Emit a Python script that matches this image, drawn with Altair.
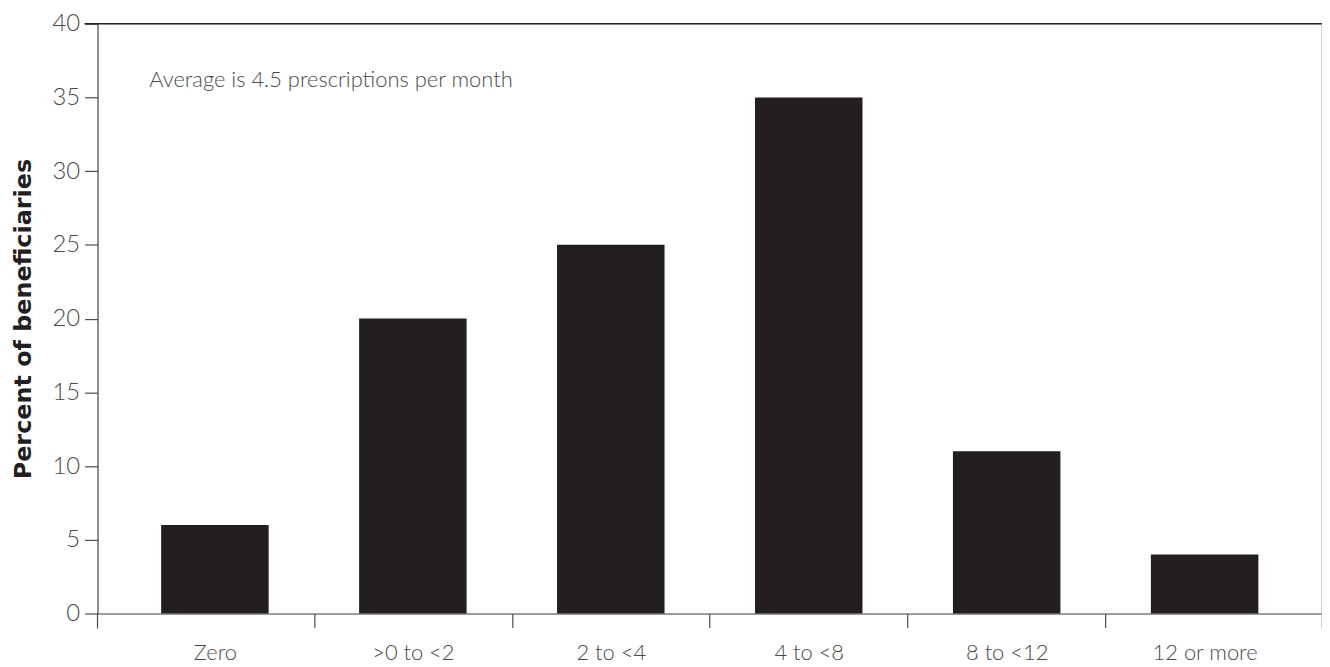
import altair as alt
import pandas as pd

categories = ["Zero", ">0 to <2", "2 to <4", "4 to <8", "8 to <12", "12 or more"]
percents = [6, 20, 25, 35, 11, 4]
y_ticks = [0, 5, 10, 15, 20, 25, 30, 35, 40]
annotation = "Average is 4.5 prescriptions per month"
y_title = "Percent of beneficiaries"

df = pd.DataFrame({"category": categories, "percent": percents})

W, H = 1231, 593
FONT = "Lato"
AXIS_COLOR = "#4d4d4d"
LABEL_COLOR = "#4a4a4a"
BAR_COLOR = "#231f20"

x_scale = alt.Scale(domain=categories, paddingInner=0.457, paddingOuter=0.3215)
y_scale = alt.Scale(domain=[0, 40], nice=False)

bars = alt.Chart(df).mark_bar(color=BAR_COLOR).encode(
    x=alt.X("category:N", sort=categories, scale=x_scale,
            axis=alt.Axis(title=None, labelAngle=0, domainColor=AXIS_COLOR,
                          tickColor=AXIS_COLOR, tickSize=14,
                          tickOffset=-99.5, labelOffset=99.5,
                          tickOpacity=alt.condition("datum.value == 'Zero'", alt.value(0), alt.value(1)),
                          labelFont=FONT, labelFontSize=22, labelFontWeight=300,
                          labelColor=LABEL_COLOR, labelPadding=15, domainWidth=1.2, tickWidth=1.2)),
    y=alt.Y("percent:Q", scale=y_scale,
            axis=alt.Axis(title=y_title, values=y_ticks, grid=False,
                          domainColor=AXIS_COLOR, tickColor=AXIS_COLOR, tickSize=13,
                          labelFont=FONT, labelFontSize=24, labelFontWeight=300,
                          labelColor=LABEL_COLOR, labelPadding=5,
                          titleFont="DejaVu Sans", titleFontSize=24, titleFontWeight="bold",
                          titleColor="#231f20", titlePadding=17, domainWidth=1.2, tickWidth=1.2)),
)

rule_base = alt.Chart(pd.DataFrame({"k": [0]}))
top_line = rule_base.mark_rule(color=BAR_COLOR, strokeWidth=1.5).encode(
    x=alt.value(-13), x2=alt.value(W), y=alt.value(0))
right_line = rule_base.mark_rule(color="#b0b0b0", strokeWidth=1.2).encode(
    x=alt.value(W), y=alt.value(0), y2=alt.value(H + 15))
left_ext = rule_base.mark_rule(color=AXIS_COLOR, strokeWidth=1.2).encode(
    x=alt.value(0), y=alt.value(H), y2=alt.value(H + 15))

note = rule_base.mark_text(align="left", baseline="alphabetic", font=FONT,
                           fontSize=22, fontWeight=300, color=LABEL_COLOR).encode(
    x=alt.value(52), y=alt.value(64), text=alt.value(annotation))

chart = alt.layer(bars, top_line, right_line, left_ext, note).properties(
    width=W, height=H,
    autosize=alt.AutoSizeParams(type="none"),
    padding={"left": 90, "top": 14, "right": 0, "bottom": 50},
).configure_view(stroke=None).configure(background="white")

chart.save("out.html", embed_options={"renderer": "svg", "actions": False})
